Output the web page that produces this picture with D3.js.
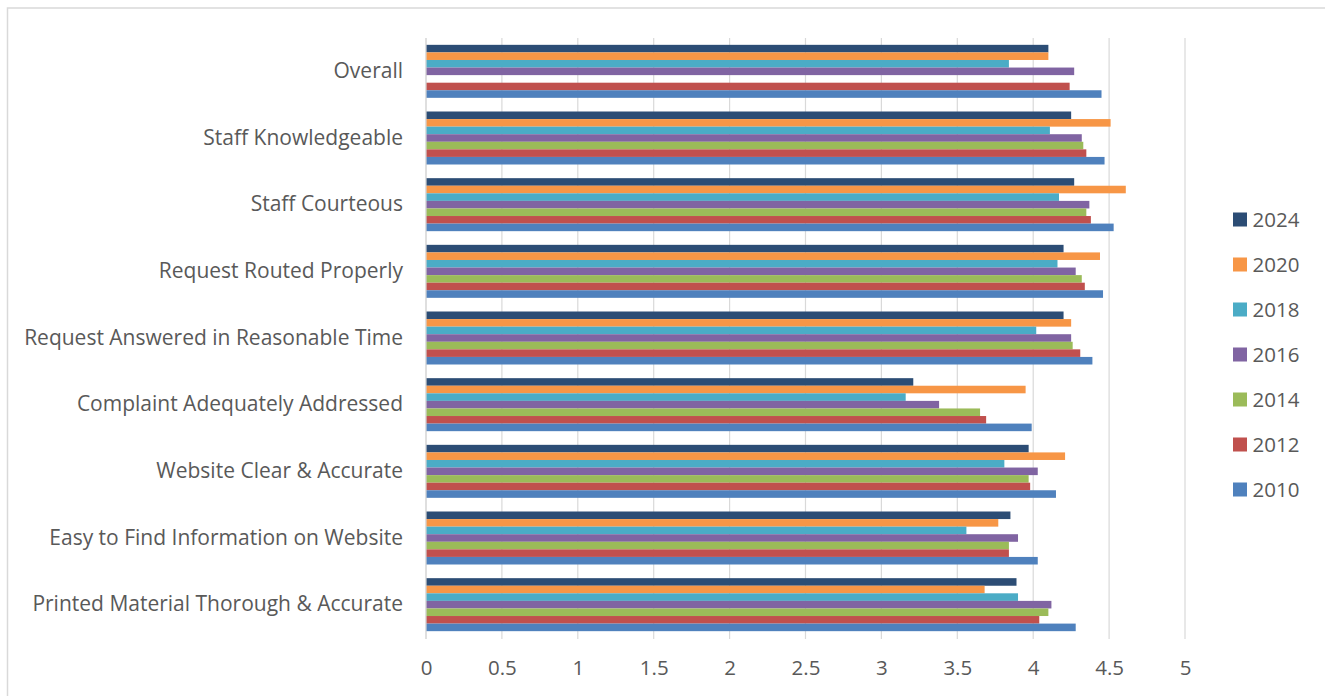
<!DOCTYPE html>
<html>
<head>
<meta charset="utf-8">
<script src="https://cdn.jsdelivr.net/npm/d3@7"></script>
<style>
  html, body { margin: 0; padding: 0; background: #fff; }
  svg { display: block; }
  text { font-family: "Open Sans", "Noto Sans", sans-serif; fill: #595959; }
</style>
</head>
<body>
<svg id="chart" width="1325" height="696"></svg>
<script>
// Survey categories, top to bottom
const categories = [
  "Overall",
  "Staff Knowledgeable",
  "Staff Courteous",
  "Request Routed Properly",
  "Request Answered in Reasonable Time",
  "Complaint Adequately Addressed",
  "Website Clear & Accurate",
  "Easy to Find Information on Website",
  "Printed Material Thorough & Accurate"
];

// Survey years, drawn top to bottom inside each group
const years = ["2024", "2020", "2018", "2016", "2014", "2012", "2010"];

// Average rating per category for each survey year (null = not asked)
const values2024 = [4.10, 4.25, 4.27, 4.20, 4.20, 3.21, 3.97, 3.85, 3.89];
const values2020 = [4.10, 4.51, 4.61, 4.44, 4.25, 3.95, 4.21, 3.77, 3.68];
const values2018 = [3.84, 4.11, 4.17, 4.16, 4.02, 3.16, 3.81, 3.56, 3.90];
const values2016 = [4.27, 4.32, 4.37, 4.28, 4.25, 3.38, 4.03, 3.90, 4.12];
const values2014 = [null, 4.33, 4.35, 4.32, 4.26, 3.65, 3.97, 3.84, 4.10];
const values2012 = [4.24, 4.35, 4.38, 4.34, 4.31, 3.69, 3.98, 3.84, 4.04];
const values2010 = [4.45, 4.47, 4.53, 4.46, 4.39, 3.99, 4.15, 4.03, 4.28];

const xTicks = [0, 0.5, 1, 1.5, 2, 2.5, 3, 3.5, 4, 4.5, 5];

const seriesValues = {
  "2024": values2024, "2020": values2020, "2018": values2018,
  "2016": values2016, "2014": values2014, "2012": values2012, "2010": values2010
};

const colors = {
  "2024": "#2c4d75", "2020": "#f79646", "2018": "#4bacc6",
  "2016": "#8064a2", "2014": "#9bbb59", "2012": "#c0504d", "2010": "#4f81bd"
};

const svg = d3.select("#chart");

// Outer chart frame
svg.append("rect")
  .attr("x", 7.5).attr("y", 8)
  .attr("width", 1400).attr("height", 800)
  .attr("fill", "none")
  .attr("stroke", "#d9d9d9")
  .attr("stroke-width", 1.5);

const plot = { left: 426, right: 1185, top: 38, bottom: 638 };

const x = d3.scaleLinear().domain([0, 5]).range([plot.left, plot.right]);

const y0 = d3.scaleBand()
  .domain(categories)
  .range([plot.top, plot.bottom])
  .paddingInner(0.205)
  .paddingOuter(0.1025);

const y1 = d3.scaleBand()
  .domain(years)
  .range([0, y0.bandwidth()]);

// Vertical gridlines
svg.append("g")
  .selectAll("line")
  .data(xTicks)
  .join("line")
  .attr("x1", d => x(d)).attr("x2", d => x(d))
  .attr("y1", plot.top).attr("y2", plot.bottom + 1)
  .attr("stroke", "#d9d9d9")
  .attr("stroke-width", 1.2);

// Bars
const groups = svg.append("g")
  .selectAll("g")
  .data(categories)
  .join("g")
  .attr("transform", d => `translate(0,${y0(d)})`);

groups.selectAll("rect")
  .data((c, i) => years
    .map(yr => ({ year: yr, value: seriesValues[yr][i] }))
    .filter(d => d.value != null))
  .join("rect")
  .attr("x", x(0))
  .attr("y", d => y1(d.year))
  .attr("width", d => x(d.value) - x(0))
  .attr("height", y1.bandwidth())
  .attr("fill", d => colors[d.year]);

// Category axis
const yAxis = svg.append("g")
  .attr("transform", `translate(${plot.left},0)`)
  .call(d3.axisLeft(y0).tickSize(0).tickPadding(23));
yAxis.select(".domain")
  .attr("stroke", "#d9d9d9")
  .attr("stroke-width", 1.2)
  .attr("d", `M0,${plot.top}V${plot.bottom + 1}`);
yAxis.selectAll("text")
  .style("font-family", "'Open Sans', 'Noto Sans', sans-serif")
  .style("font-size", "21px")
  .attr("fill", "#595959");

// Value axis labels
const xAxis = svg.append("g")
  .attr("transform", `translate(0,${plot.bottom})`)
  .call(d3.axisBottom(x).tickValues(xTicks).tickSize(0).tickPadding(22)
    .tickFormat(d3.format("")));
xAxis.select(".domain").remove();
xAxis.selectAll("text")
  .style("font-family", "'Open Sans', 'Noto Sans', sans-serif")
  .style("font-size", "20.5px")
  .attr("fill", "#595959");

// Legend
const legend = svg.append("g")
  .selectAll("g")
  .data(years)
  .join("g")
  .attr("transform", (d, i) => `translate(1233,${219.5 + i * 45})`);
legend.append("rect")
  .attr("x", 0).attr("y", -7)
  .attr("width", 14).attr("height", 14)
  .attr("fill", d => colors[d]);
legend.append("text")
  .attr("x", 19.5).attr("y", 0)
  .attr("dy", "0.35em")
  .style("font-size", "20.5px")
  .text(d => d);
</script>
</body>
</html>
